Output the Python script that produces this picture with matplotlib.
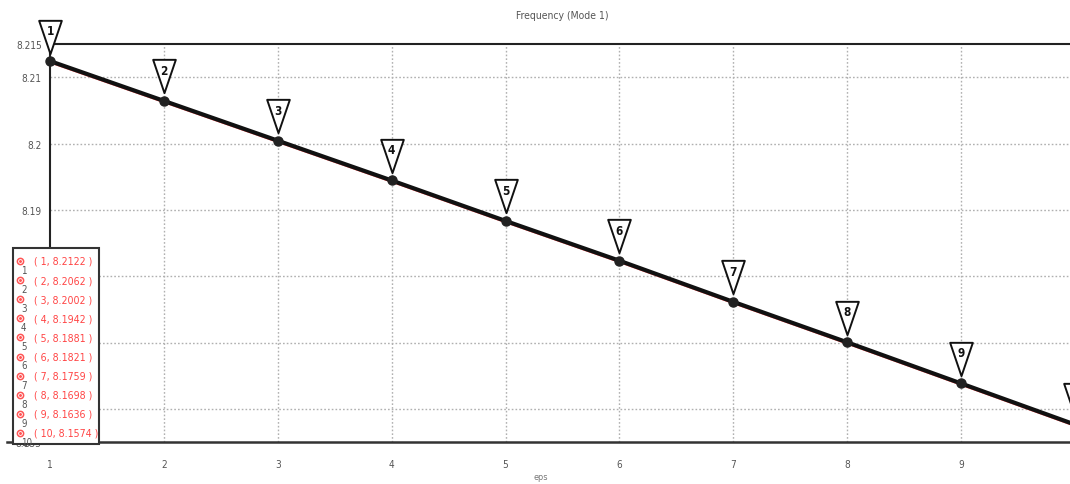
import matplotlib
matplotlib.use("Agg")
import matplotlib.pyplot as plt
from matplotlib.path import Path
from matplotlib.lines import Line2D
from matplotlib.patches import Rectangle
import matplotlib.transforms as mtransforms
from matplotlib import font_manager

eps = [1, 2, 3, 4, 5, 6, 7, 8, 9, 10]
freq = [8.2122, 8.2062, 8.2002, 8.1942, 8.1881, 8.1821, 8.1759, 8.1698, 8.1636, 8.1574]
yticks = [8.155, 8.16, 8.17, 8.18, 8.19, 8.2, 8.21, 8.215]
ytick_labels = ["8.155", "8.16", "8.17", "8.18", "8.19", "8.2", "8.21", "8.215"]
xticks = [1, 2, 3, 4, 5, 6, 7, 8, 9]
title = "Frequency (Mode 1)"
xlabel = "eps"

stretches = {(f.name, f.stretch) for f in font_manager.fontManager.ttflist}
cond = any(n == 'DejaVu Sans' and s in ('condensed', 'semi-condensed', 300, 400, 500) for n, s in stretches)
plt.rcParams['font.family'] = ['DejaVu Sans']
if cond:
    plt.rcParams['font.stretch'] = 'condensed'

W, H = 1070, 485
fig = plt.figure(figsize=(W / 100, H / 100), dpi=100)
fig.patch.set_facecolor('white')

def fx(px):
    return px / W

def fy(py):
    return 1 - py / H

left, right, top, bottom = 50, 1075, 45, 443
ax = fig.add_axes([fx(left), fy(bottom), (right - left) / W, (bottom - top) / H])
ax.set_xlim(1, 10)
ax.set_ylim(8.155, 8.215)
ax.set_facecolor('white')

ax.spines['right'].set_visible(False)
ax.spines['top'].set_linewidth(1.5)
ax.spines['top'].set_color('#222222')
ax.spines['left'].set_linewidth(1.5)
ax.spines['left'].set_color('#222222')
ax.spines['bottom'].set_visible(False)

ax.set_xticks(xticks)
ax.set_xticklabels([str(v) for v in xticks])
ax.set_yticks(yticks)
ax.set_yticklabels(ytick_labels)
ax.tick_params(axis='both', length=0, labelsize=7.2, colors='#555555', pad=6)
ax.tick_params(axis='x', pad=12)

for gx in xticks[1:]:
    ax.axvline(gx, color='#b0b0b0', lw=1.0, ls=(0, (1.2, 1.5)), zorder=0)
for gy in yticks[1:-1]:
    ax.axhline(gy, color='#b0b0b0', lw=1.0, ls=(0, (1.2, 1.5)), zorder=0)

# bottom axis line extending to the left
fig.add_artist(Line2D([fx(7), fx(1070)], [fy(443), fy(443)], color='#333333', lw=1.8))

# data line: red underlying, black overlay shifted up slightly
ax.plot(eps, freq, color='#ff5050', lw=1.2, zorder=3)
up = mtransforms.offset_copy(ax.transData, fig=fig, x=0, y=1.5, units='dots')
ax.plot(eps, freq, color='#111111', lw=3.0, zorder=4, transform=up, solid_capstyle='butt')
ax.plot(eps, freq, 'o', color='#222222', ms=6.5, zorder=5, transform=up, clip_on=False)

# triangle markers
tri = Path([(-0.34, 0.5), (0.34, 0.5), (0.0, -0.5), (-0.34, 0.5)],
           [Path.MOVETO, Path.LINETO, Path.LINETO, Path.CLOSEPOLY])
tri_tr = mtransforms.offset_copy(ax.transData, fig=fig, x=0, y=26, units='dots')
ax.plot(eps, freq, ls='none', marker=tri, ms=24, mfc='white', mec='#111111', mew=1.4,
        transform=tri_tr, zorder=6, clip_on=False)
txt_tr = mtransforms.offset_copy(ax.transData, fig=fig, x=0, y=32, units='dots')
for xv, yv in zip(eps, freq):
    if xv > xticks[-1]:
        continue  # falls beyond the visible edge
    ax.text(xv, yv, str(xv), transform=txt_tr, ha='center', va='center', fontsize=8.5,
            color='#111111', fontweight='bold', zorder=7, clip_on=False)

ax.set_title(title, fontsize=7.5, color='#555555', pad=19)
fig.text(fx(541), fy(478), xlabel, ha='center', va='center', fontsize=6.5, color='#777777')

# legend box
lx0, ly0, lx1, ly1 = 13, 249, 99, 445
fig.add_artist(Rectangle((fx(lx0), fy(ly1)), (lx1 - lx0) / W, (ly1 - ly0) / H,
                         facecolor='white', edgecolor='#333333', lw=1.5, zorder=10))
row0, dy = 262, 19.1
for i, (xv, yv) in enumerate(zip(eps, freq)):
    yy = row0 + i * dy
    fig.add_artist(Line2D([fx(20)], [fy(yy)], marker='o', ms=4.5, mfc='none', mec='#ff5555',
                          mew=1.1, zorder=11))
    fig.add_artist(Line2D([fx(20)], [fy(yy)], marker='.', ms=2.2, color='#ff5555', zorder=11))
    fig.text(fx(34), fy(yy), f"( {xv}, {yv:.4f} )", ha='left', va='center', fontsize=7.6,
             color='#ff4444', zorder=12)
    fig.text(fx(21), fy(yy + 9), str(xv), ha='left', va='center', fontsize=7,
             color='#555555', zorder=12)

fig.savefig('out.png', dpi=100)
